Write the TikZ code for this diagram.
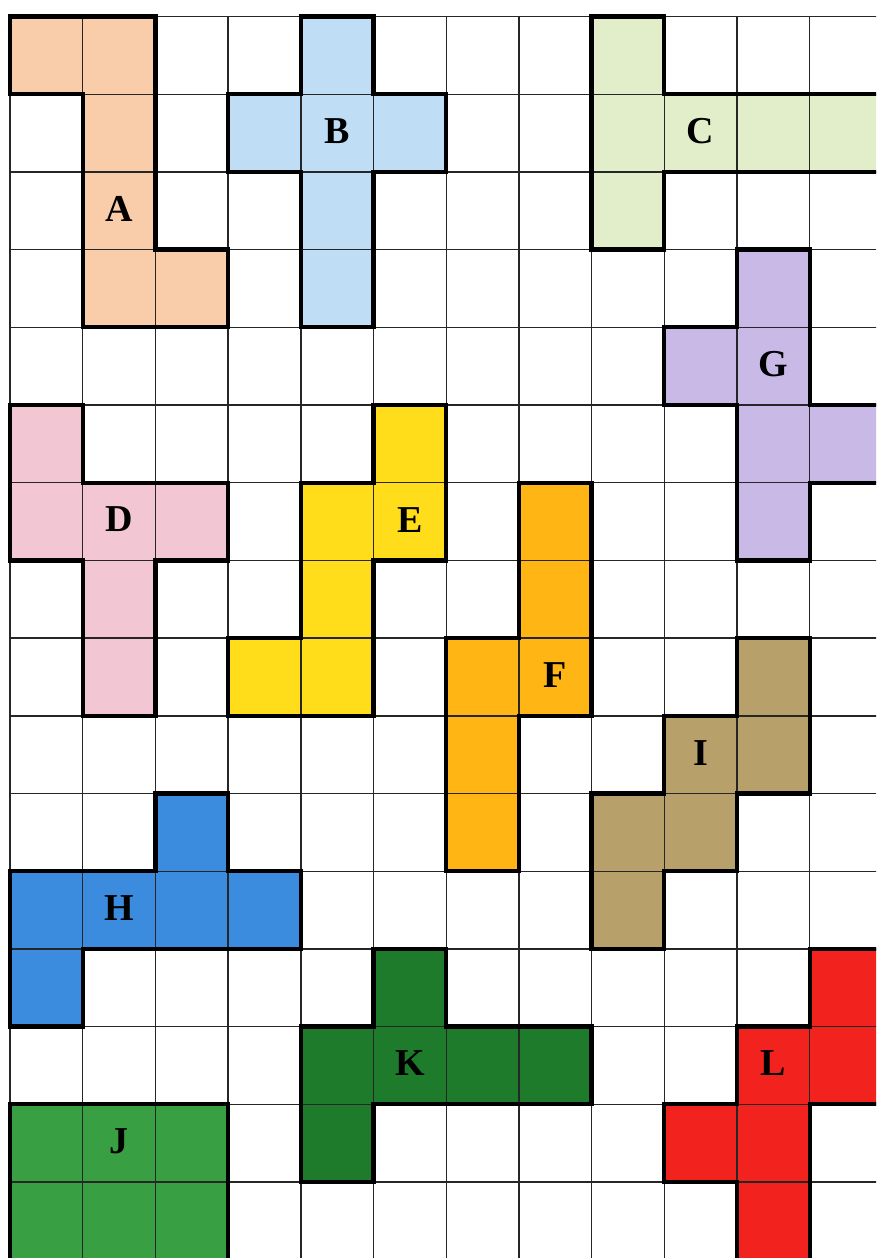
\documentclass[tikz,border=0pt]{standalone}
\usepackage{fontspec}
\setmainfont{Liberation Serif}

\definecolor{colA}{HTML}{F9CCAA}
\definecolor{colB}{HTML}{BFDDF5}
\definecolor{colC}{HTML}{E2EDC9}
\definecolor{colG}{HTML}{C8B9E6}
\definecolor{colD}{HTML}{F3C6D3}
\definecolor{colE}{HTML}{FFDD1A}
\definecolor{colF}{HTML}{FFB514}
\definecolor{colI}{HTML}{B8A06A}
\definecolor{colH}{HTML}{3B8BDE}
\definecolor{colK}{HTML}{1E7B2B}
\definecolor{colJ}{HTML}{38A042}
\definecolor{colL}{HTML}{F2231E}

% colour / outline of every piece, in cell units (x right, y down)
\newcommand\tilelist{%
  colA/{(0,0) -- (2,0) -- (2,3) -- (3,3) -- (3,4) -- (1,4) -- (1,1) -- (0,1) -- cycle},
  colB/{(4,0) -- (5,0) -- (5,1) -- (6,1) -- (6,2) -- (5,2) -- (5,4) -- (4,4) -- (4,2) -- (3,2) -- (3,1) -- (4,1) -- cycle},
  colC/{(8,0) -- (9,0) -- (9,1) -- (12,1) -- (12,2) -- (9,2) -- (9,3) -- (8,3) -- cycle},
  colG/{(10,3) -- (11,3) -- (11,5) -- (12,5) -- (12,6) -- (11,6) -- (11,7) -- (10,7) -- (10,5) -- (9,5) -- (9,4) -- (10,4) -- cycle},
  colD/{(0,5) -- (1,5) -- (1,6) -- (3,6) -- (3,7) -- (2,7) -- (2,9) -- (1,9) -- (1,7) -- (0,7) -- cycle},
  colE/{(5,5) -- (6,5) -- (6,7) -- (5,7) -- (5,9) -- (3,9) -- (3,8) -- (4,8) -- (4,6) -- (5,6) -- cycle},
  colF/{(7,6) -- (8,6) -- (8,9) -- (7,9) -- (7,11) -- (6,11) -- (6,8) -- (7,8) -- cycle},
  colI/{(10,8) -- (11,8) -- (11,10) -- (10,10) -- (10,11) -- (9,11) -- (9,12) -- (8,12) -- (8,10) -- (9,10) -- (9,9) -- (10,9) -- cycle},
  colH/{(2,10) -- (3,10) -- (3,11) -- (4,11) -- (4,12) -- (1,12) -- (1,13) -- (0,13) -- (0,11) -- (2,11) -- cycle},
  colK/{(5,12) -- (6,12) -- (6,13) -- (8,13) -- (8,14) -- (5,14) -- (5,15) -- (4,15) -- (4,13) -- (5,13) -- cycle},
  colJ/{(0,14) -- (3,14) -- (3,16) -- (0,16) -- cycle},
  colL/{(11,12) -- (12,12) -- (12,14) -- (11,14) -- (11,16) -- (10,16) -- (10,15) -- (9,15) -- (9,14) -- (10,14) -- (10,13) -- (11,13) -- cycle}%
}

\begin{document}
\begin{tikzpicture}[
  x=72.7pt, y=-77.7pt,
  gridline/.style={draw=black!85, line width=1.4pt},
  outline/.style={draw=black, line width=4.3pt},
  letter/.style={font=\fontsize{38}{38}\selectfont\bfseries, inner sep=0pt, yshift=2pt}
]

% page
\useasboundingbox (-0.1376,-0.2124) rectangle (11.912,15.978);
\fill[white] (-0.1376,-0.2124) rectangle (11.912,15.978);
\clip (-0.1376,-0.2124) rectangle (11.912,15.978);

% coloured cells
\foreach \c/\p in \tilelist
  \fill[\c] \p;

% squared paper
\foreach \i in {0,...,12}
  \draw[gridline] (\i,0) -- (\i,16);
\foreach \j in {0,...,16}
  \draw[gridline] (0,\j) -- (12,\j);

% piece borders
\foreach \c/\p in \tilelist
  \draw[outline] \p;

% letters
\foreach \n/\x/\y in {A/1/2, B/4/1, C/9/1, G/10/4, D/1/6, E/5/6, F/7/8, I/9/9, H/1/11, K/5/13, J/1/14, L/10/13}
  \node[letter] (lab\n) at (\x+0.5,\y+0.5) {\n};

\end{tikzpicture}
\end{document}
